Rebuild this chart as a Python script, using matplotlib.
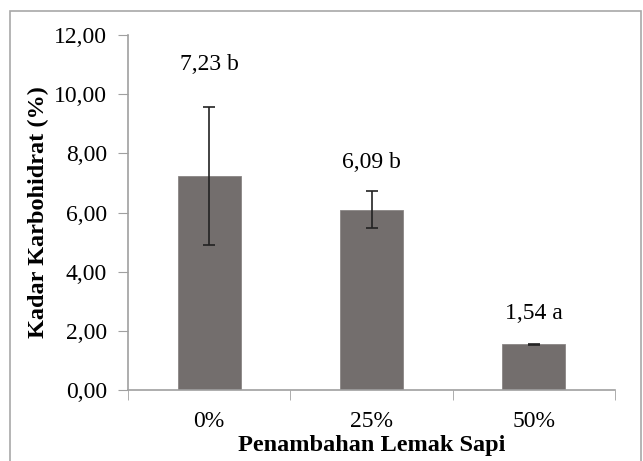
import matplotlib
matplotlib.use('Agg')
import matplotlib.pyplot as plt
from matplotlib.patches import Rectangle
from matplotlib.ticker import FuncFormatter

categories = ['0%', '25%', '50%']
values = [7.23, 6.09, 1.54]
errors = [2.33, 0.63, 0.03]
labels = ['7,23 b', '6,09 b', '1,54 a']
label_y = [11.0, 7.7, 2.6]

plt.rcParams['font.family'] = ['Liberation Serif', 'DejaVu Serif']

fig = plt.figure(figsize=(6.43, 4.61), dpi=100)
# outer frame
fig.patches.append(Rectangle((10 / 643, -0.05), 631 / 643, 1.05 - 11 / 461,
                             transform=fig.transFigure, fill=False,
                             edgecolor='#a8a8a8', linewidth=1.2))
ax = fig.add_axes([128 / 643, 71 / 461, 487 / 643, 355 / 461])

x = range(len(categories))
ax.bar(x, values, width=0.39, color='#736e6d', edgecolor='#8a8685', linewidth=0.6,
       yerr=errors, error_kw=dict(ecolor='#222222', elinewidth=1.2, capsize=4, capthick=1.2))
for i, (t, yy) in enumerate(zip(labels, label_y)):
    ax.text(i, yy, t, ha='center', va='center', fontsize=17)

ax.set_xlim(-0.5, 2.5)
ax.set_ylim(0, 12)
ax.set_yticks([0, 2, 4, 6, 8, 10, 12])
ax.yaxis.set_major_formatter(FuncFormatter(lambda v, p: f'{v:.2f}'.replace('.', ',')))
ax.set_xticks([0, 1, 2])
ax.set_xticklabels(categories)
ax.set_xticks([-0.5, 0.5, 1.5, 2.5], minor=True)
ax.tick_params(axis='x', which='major', length=0, labelsize=17, pad=15)
ax.tick_params(axis='x', which='minor', length=7, color='#a0a0a0', direction='out')
ax.tick_params(axis='y', length=7, color='#a0a0a0', labelsize=17, pad=8)

for s in ['top', 'right']:
    ax.spines[s].set_visible(False)
for s in ['left', 'bottom']:
    ax.spines[s].set_color('#a0a0a0')
    ax.spines[s].set_linewidth(1.2)

ax.set_ylabel('Kadar Karbohidrat (%)', fontsize=17.5, fontweight='bold', labelpad=4)
ax.set_xlabel('Penambahan Lemak Sapi', fontsize=17.5, fontweight='bold', labelpad=2)

fig.savefig('out.png', dpi=100)
